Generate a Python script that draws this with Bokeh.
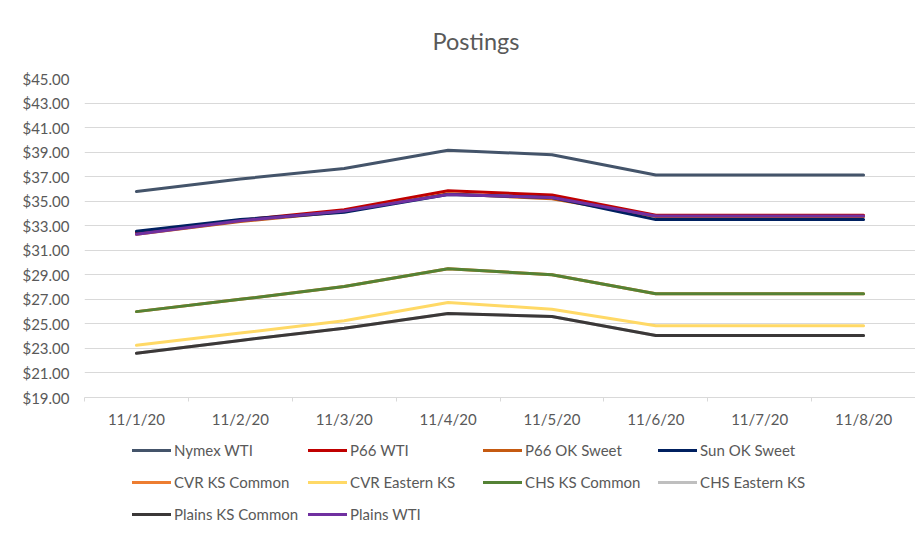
from bokeh.plotting import figure
from bokeh.layouts import column
from bokeh.models import FixedTicker, NumeralTickFormatter, Legend, LegendItem, Range1d
from bokeh.embed import file_html
from bokeh.resources import INLINE

dates = ["11/1/20", "11/2/20", "11/3/20", "11/4/20", "11/5/20", "11/6/20", "11/7/20", "11/8/20"]

nymex_wti = [35.79, 36.81, 37.66, 39.15, 38.79, 37.14, 37.14, 37.14]
p66_wti = [32.40, 33.45, 34.30, 35.85, 35.50, 33.85, 33.85, 33.85]
p66_ok_sweet = [32.30, 33.35, 34.15, 35.60, 35.20, 33.75, 33.75, 33.75]
sun_ok_sweet = [32.55, 33.50, 34.10, 35.55, 35.30, 33.50, 33.50, 33.50]
cvr_ks_common = [26.00, 27.00, 28.05, 29.50, 29.00, 27.45, 27.45, 27.45]
cvr_eastern_ks = [23.25, 24.25, 25.25, 26.75, 26.20, 24.85, 24.85, 24.85]
chs_ks_common = [26.00, 27.00, 28.05, 29.50, 29.00, 27.45, 27.45, 27.45]
chs_eastern_ks = [22.60, 23.65, 24.65, 25.85, 25.60, 24.05, 24.05, 24.05]
plains_ks_common = [22.60, 23.65, 24.65, 25.85, 25.60, 24.05, 24.05, 24.05]
plains_wti = [32.30, 33.40, 34.20, 35.55, 35.30, 33.80, 33.80, 33.80]

series_names = ["Nymex WTI", "P66 WTI", "P66 OK Sweet", "Sun OK Sweet", "CVR KS Common",
                "CVR Eastern KS", "CHS KS Common", "CHS Eastern KS", "Plains KS Common", "Plains WTI"]
series_values = [nymex_wti, p66_wti, p66_ok_sweet, sun_ok_sweet, cvr_ks_common,
                 cvr_eastern_ks, chs_ks_common, chs_eastern_ks, plains_ks_common, plains_wti]
series_colors = ["#44546A", "#C00000", "#C55A11", "#002060", "#ED7D31",
                 "#FFD966", "#548235", "#BFBFBF", "#3B3838", "#7030A0"]

y_ticks = list(range(19, 46, 2))

FONT = "Lato"
TEXT_COLOR = "#595959"
GRID = "#D9D9D9"

x_idx = list(range(len(dates)))

p = figure(width=915, height=437, output_backend="svg", toolbar_location=None,
           x_range=Range1d(-0.5, len(dates) - 0.5), y_range=Range1d(19, 45),
           min_border_left=84, min_border_right=0, min_border_top=78, min_border_bottom=40)
p.outline_line_color = None
p.background_fill_color = "white"
p.border_fill_color = "white"

p.title.text = "Postings"
p.title.align = "left"
p.title.offset = 348
p.title.text_font = FONT
p.title.text_font_size = "23.5px"
p.title.text_font_style = "normal"
p.title.text_color = TEXT_COLOR
p.title.standoff = 48

for name, vals, col in zip(series_names, series_values, series_colors):
    p.line(x_idx, vals, line_color=col, line_width=3, line_cap="round", line_join="round")

# x axis
xa = p.xaxis[0]
xa.ticker = FixedTicker(ticks=x_idx, minor_ticks=[i - 0.5 for i in range(len(dates) + 1)])
xa.major_label_overrides = {i: d for i, d in enumerate(dates)}
xa.major_label_text_font = FONT
xa.major_label_text_font_size = "15px"
xa.major_label_text_color = TEXT_COLOR
xa.major_label_standoff = 8
xa.axis_line_color = GRID
xa.major_tick_line_color = None
xa.major_tick_out = 0
xa.major_tick_in = 0
xa.minor_tick_line_color = GRID
xa.minor_tick_out = 4
xa.minor_tick_in = 0

# y axis
ya = p.yaxis[0]
ya.ticker = FixedTicker(ticks=y_ticks)
ya.formatter = NumeralTickFormatter(format="$0.00")
ya.major_label_text_font = FONT
ya.major_label_text_font_size = "15px"
ya.major_label_text_color = TEXT_COLOR
ya.major_label_standoff = 9
ya.axis_line_color = None
ya.major_tick_line_color = None
ya.minor_tick_line_color = None

p.xgrid.grid_line_color = None
p.ygrid.grid_line_color = GRID
p.ygrid.grid_line_width = 1

# legend strip: a second figure directly below; its key lines carry the same series
# but fall outside its (0..1) view, so only the legend keys show.
lg = figure(width=915, height=88, output_backend="svg", toolbar_location=None,
            x_axis_type=None, y_axis_type=None, x_range=Range1d(0, 1), y_range=Range1d(0, 1),
            min_border_left=0, min_border_right=0, min_border_top=0, min_border_bottom=0)
lg.outline_line_color = None
lg.xgrid.grid_line_color = None
lg.ygrid.grid_line_color = None
keys = [lg.line(x_idx, vals, line_color=col, line_width=3, line_cap="round")
        for vals, col in zip(series_values, series_colors)]

legend = Legend(items=[LegendItem(label=n, renderers=[r]) for n, r in zip(series_names, keys)],
                location=(48, 0), orientation="horizontal", ncols=4,
                label_text_font=FONT, label_text_font_size="15px", label_text_color=TEXT_COLOR,
                glyph_width=39, glyph_height=22, label_height=22, label_width=123,
                label_standoff=3, spacing=10, padding=0, margin=0, border_line_color=None,
                background_fill_alpha=0)
lg.add_layout(legend, "center")

layout = column(p, lg, spacing=0)
open("out.html", "w").write(file_html(layout, INLINE))
